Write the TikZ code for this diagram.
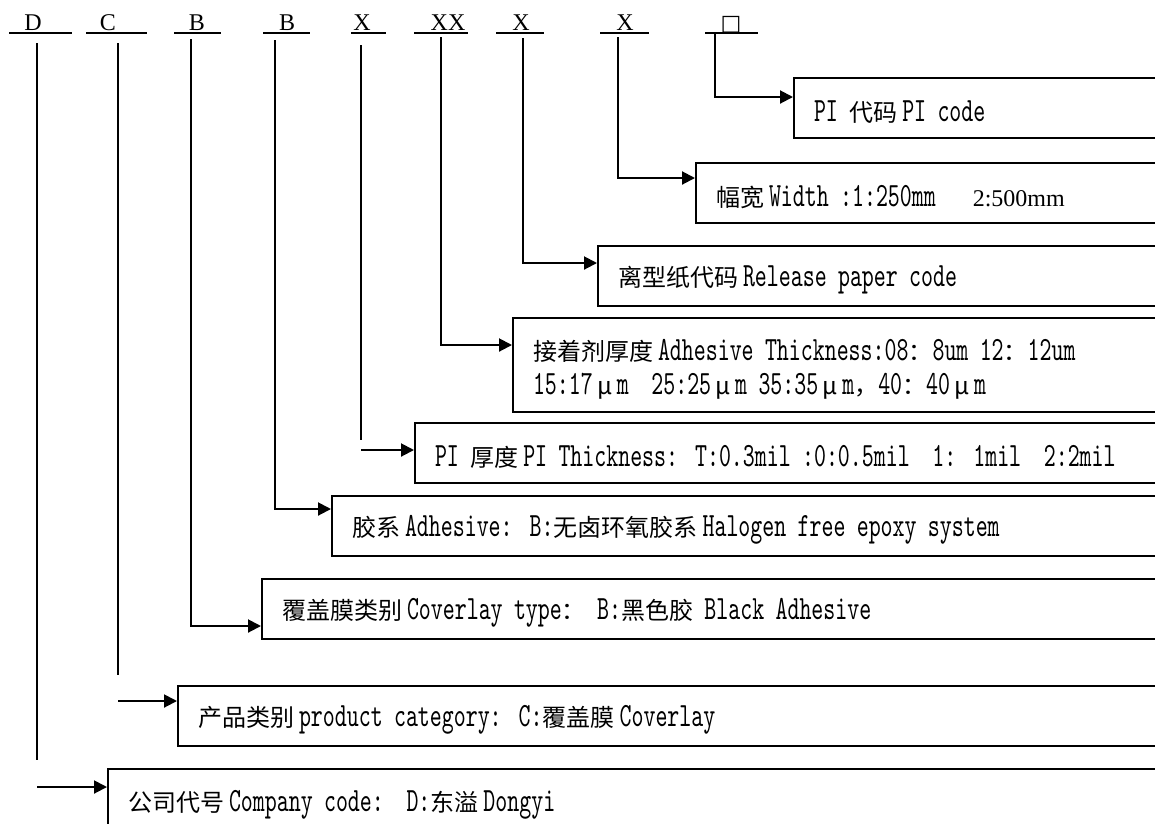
\documentclass[tikz,border=0pt]{standalone}
\usepackage{fontspec}
\usepackage{tikz}
\usetikzlibrary{arrows.meta,calc}
\newfontfamily\enfont{lmmono10-regular.otf}[FakeStretch=0.67]
\newfontfamily\zhfont{Noto Sans CJK SC}[Scale=0.706]
\newfontfamily\tmsfont{Liberation Serif}
\newfontfamily\symfont{DejaVu Sans}
\newcommand{\zh}[1]{{\zhfont #1}}
\newcommand{\gp}{\hspace{5pt}}
\newcommand{\um}{\makebox[24pt][c]{\zhfont μ}}
\newcommand{\tms}[1]{{\tmsfont\fontsize{24}{24}\selectfont #1}}
\tikzset{
  codeletter/.style={
    anchor=base,
    inner sep=0pt,
    font=\tmsfont\fontsize{24}{24}\selectfont},
  uline/.style={line width=1.6pt},
  stem/.style={line width=2pt},
  arr/.style={
    line width=2pt,
    -{Triangle[length=13pt,width=13pt]}},
  infobox/.style={
    draw,
    line width=2pt,
    anchor=north west,
    inner xsep=20pt,
    inner ysep=0pt,
    align=left,
    minimum height=60pt,
    execute at begin node={\rule{0pt}{29pt}},
    font=\enfont\fontsize{34}{34}\selectfont}
  }

\begin{document}
\begin{tikzpicture}[x=1pt,y=-1pt]
    \useasboundingbox (0,0) rectangle (1155,823);
    \clip (0,0) rectangle (1155,823);
    % code letters
    \node[codeletter] (lD) at (33,30) {D};
    \node[codeletter] (lC) at (108,30) {C};
    \node[codeletter] (lBa) at (197,30) {B};
    \node[codeletter] (lBb) at (287,30) {B};
    \node[codeletter] (lXa) at (362,30) {X};
    \node[codeletter] (lXX) at (448,30) {XX};
    \node[codeletter] (lXb) at (521,30) {X};
    \node[codeletter] (lXc) at (625,30) {X};
    \node[codeletter, font=\symfont\fontsize{22}{22}\selectfont] (lSq) at (731,30) {□};
    \draw[uline] (9,33) -- (72,33);
    \draw[uline] (86,33) -- (147,33);
    \draw[uline] (174,33) -- (221,33);
    \draw[uline] (263,33) -- (310,33);
    \draw[uline] (351,33) -- (386,33);
    \draw[uline] (414,33) -- (468,33);
    \draw[uline] (496,33) -- (544,33);
    \draw[uline] (600,33) -- (649,33);
    \draw[uline] (705,33) -- (758,33);
    \coordinate (tD) at (37,43);
    \coordinate (tC) at (118,43);
    \coordinate (tBa) at (191,39);
    \coordinate (tBb) at (275,40);
    \coordinate (tXa) at (361,45);
    \coordinate (tXX) at (441,37);
    \coordinate (tXb) at (523,38);
    \coordinate (tXc) at (618,37);
    \coordinate (tSq) at (715,33);
    % boxes
    \node[infobox, text width=347pt] (picode) at (793,77)
      {PI \zh{代码}\gp PI code};
    \node[infobox, text width=445pt] (widthbox) at (695,162)
      {\zh{幅宽}\gp Width :1:250mm\hspace{37pt}\tms{2:500mm}};
    \node[infobox, text width=543pt] (release) at (597,245)
      {\zh{离型纸代码}\gp Release paper code};
    \node[infobox, text width=628pt, minimum height=94pt] (adthick) at (512,317)
      {\zh{接着剂厚度}\gp Adhesive Thickness:08\zh{：}8um 12\zh{：}12um\\
       15:17\um m\ \ 25:25\um m 35:35\um m\zh{，}40\zh{：}40\um m};
    \node[infobox, text width=726pt] (pithick) at (414,422)
      {PI \zh{厚度}\gp PI Thickness: T:0.3mil :0:0.5mil\ \ 1: 1mil\ \ 2:2mil};
    \node[infobox, text width=809pt] (adhesive) at (331,495)
      {\zh{胶系}\gp Adhesive: B:\zh{无卤环氧胶系}\gp Halogen free epoxy system};
    \node[infobox, text width=879pt] (covertype) at (261,578)
      {\zh{覆盖膜类别}\gp Coverlay type\zh{：} B:\zh{黑色胶} Black Adhesive};
    \node[infobox, text width=963pt] (category) at (177,685)
      {\zh{产品类别}\gp product category: C:\zh{覆盖膜}\gp Coverlay};
    \node[infobox, text width=1033pt, minimum height=64pt] (company) at (107,768)
      {\zh{公司代号}\gp Company code:\ \ D:\zh{东溢}\gp Dongyi};
    % arrow targets
    \coordinate (aPI) at ([yshift=-28pt]pithick.north west);
    \coordinate (aCat) at ([yshift=-16pt]category.north west);
    \coordinate (aCo) at ([yshift=-19pt]company.north west);
    \draw[arr] (tSq) |- ([yshift=-20pt]picode.north west);
    \draw[arr] (tXc) |- ([yshift=-16pt]widthbox.north west);
    \draw[arr] (tXb) |- ([yshift=-18pt]release.north west);
    \draw[arr] (tXX) |- ([yshift=-28pt]adthick.north west);
    \draw[stem] (tXa) -- (tXa |- 0,440);
    \draw[arr] (tXa |- aPI) -- (aPI);
    \draw[arr] (tBb) |- ([yshift=-14pt]adhesive.north west);
    \draw[arr] (tBa) |- ([yshift=-48pt]covertype.north west);
    \draw[stem] (tC) -- (tC |- 0,675);
    \draw[arr] (tC |- aCat) -- (aCat);
    \draw[stem] (tD) -- (tD |- 0,760);
    \draw[arr] (tD |- aCo) -- (aCo);
\end{tikzpicture}
\end{document}
